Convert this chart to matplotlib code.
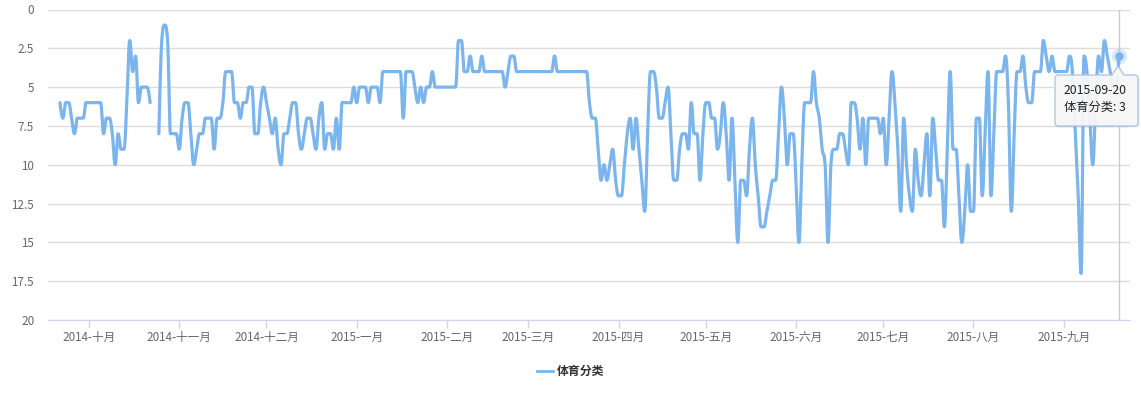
import numpy as np
import pandas as pd
import matplotlib
matplotlib.use('Agg')
import matplotlib.pyplot as plt
import matplotlib.dates as mdates
from matplotlib.patches import FancyBboxPatch, Polygon
from matplotlib.lines import Line2D
from matplotlib.transforms import IdentityTransform

plt.rcParams['font.family'] = ['Noto Sans CJK SC', 'DejaVu Sans']

# daily rank of the 体育分类 series, one list per month (nan = missing day)
nan = np.nan
sep14 = [6, 7, 6, 6, 7, 8, 7, 7, 7, 6]
oct14 = [6, 6, 6, 6, 6, 8, 7, 7, 8, 10, 8, 9, 9, 6, 2, 4, 3, 6, 5, 5, 5, 6, nan, nan, 8, 2, 1, 2, 8, 8, 8]
nov14 = [9, 7, 6, 6, 8, 10, 9, 8, 8, 7, 7, 7, 9, 7, 7, 6, 4, 4, 4, 6, 6, 7, 6, 6, 5, 5, 8, 8, 6, 5]
dec14 = [6, 7, 8, 7, 9, 10, 8, 8, 7, 6, 6, 8, 9, 8, 7, 7, 8, 9, 7, 6, 9, 8, 8, 9, 7, 9, 6, 6, 6, 6, 5]
jan15 = [6, 5, 5, 5, 6, 5, 5, 5, 6, 4, 4, 4, 4, 4, 4, 4, 7, 4, 4, 4, 5, 6, 5, 6, 5, 5, 4, 5, 5, 5, 5]
feb15 = [5, 5, 5, 5, 2, 2, 4, 4, 3, 4, 4, 4, 3, 4, 4, 4, 4, 4, 4, 4, 5, 4, 3, 3, 4, 4, 4, 4]
mar15 = [4, 4, 4, 4, 4, 4, 4, 4, 4, 3, 4, 4, 4, 4, 4, 4, 4, 4, 4, 4, 4, 6, 7, 7, 9, 11, 10, 11, 10, 9, 11]
apr15 = [12, 12, 10, 8, 7, 9, 7, 9, 11, 13, 8, 4, 4, 5, 7, 7, 6, 5, 8, 11, 11, 9, 8, 8, 9, 6, 8, 8, 11, 8]
may15 = [6, 6, 7, 7, 9, 8, 6, 8, 11, 7, 11, 15, 11, 11, 12, 9, 7, 10, 12, 14, 14, 13, 12, 11, 11, 8, 5, 7, 10, 8, 8]
jun15 = [11, 15, 10, 6, 6, 6, 4, 6, 7, 9, 10, 15, 10, 9, 9, 8, 8, 9, 10, 6, 6, 7, 9, 7, 10, 7, 7, 7, 7, 8]
jul15 = [7, 10, 7, 4, 6, 9, 13, 7, 10, 12, 13, 9, 11, 12, 10, 8, 12, 7, 9, 11, 11, 14, 9, 4, 9, 9, 12, 15, 13, 10, 13]
aug15 = [13, 7, 7, 12, 8, 4, 12, 8, 4, 4, 4, 3, 6, 13, 8, 4, 4, 3, 5, 6, 6, 4, 4, 4, 2, 3, 4, 3, 4, 4, 4]
sep15 = [4, 4, 3, 4, 8, 12, 17, 3, 4, 7, 10, 6, 3, 4, 2, 3, 4, 5, 5, 3]

series_name = '体育分类'
cn_months = ['一月', '二月', '三月', '四月', '五月', '六月',
             '七月', '八月', '九月', '十月', '十一月', '十二月']

values = np.array(sep14 + oct14 + nov14 + dec14 + jan15 + feb15 + mar15 +
                  apr15 + may15 + jun15 + jul15 + aug15 + sep15, dtype=float)
dates = pd.date_range('2014-09-21', '2015-09-20', freq='D')
xs = mdates.date2num(dates)


def spline(x, y, n=12):
    # spline like the web chart lib: control points at 1.5/2.5, no false extremes
    npt = len(x)
    if npt < 3:
        return x, y
    lcx, lcy = x.copy(), y.copy()
    rcx, rcy = x.copy(), y.copy()
    for i in range(1, npt - 1):
        px, py = x[i], y[i]
        lx, ly, nx, ny = x[i - 1], y[i - 1], x[i + 1], y[i + 1]
        a = (1.5 * px + lx) / 2.5
        b = (1.5 * py + ly) / 2.5
        c = (1.5 * px + nx) / 2.5
        d = (1.5 * py + ny) / 2.5
        corr = (d - b) * (c - px) / (c - a) + py - d
        b += corr
        d += corr
        if b > ly and b > py:
            b = max(ly, py)
            d = 2 * py - b
        elif b < ly and b < py:
            b = min(ly, py)
            d = 2 * py - b
        if d > ny and d > py:
            d = max(ny, py)
            b = 2 * py - d
        elif d < ny and d < py:
            d = min(ny, py)
            b = 2 * py - d
        lcx[i], lcy[i], rcx[i], rcy[i] = a, b, c, d
    t = np.linspace(0, 1, n, endpoint=False)[:, None]
    out = []
    for i in range(npt - 1):
        p0 = np.array([x[i], y[i]])
        p1 = np.array([rcx[i], rcy[i]])
        p2 = np.array([lcx[i + 1], lcy[i + 1]])
        p3 = np.array([x[i + 1], y[i + 1]])
        out.append((1 - t)**3 * p0 + 3 * (1 - t)**2 * t * p1 + 3 * (1 - t) * t**2 * p2 + t**3 * p3)
    out.append(np.array([[x[-1], y[-1]]]))
    out = np.vstack(out)
    return out[:, 0], out[:, 1]


W, H = 1141, 395
fig = plt.figure(figsize=(W / 100, H / 100), dpi=100)
ax = fig.add_axes([48 / W, 1 - 320 / H, (1130 - 48) / W, (320 - 9.5) / H])

line_col = '#7cb5ec'
ok = ~np.isnan(values)
idx = np.where(ok)[0]
breaks = np.where(np.diff(idx) > 1)[0]
for seg in np.split(idx, breaks + 1):
    sx, sy = spline(xs[seg], values[seg])
    ax.plot(sx, sy, color=line_col, lw=2.3, solid_capstyle='round',
            solid_joinstyle='round', zorder=3)

ax.set_ylim(20, 0)
ax.set_yticks(np.arange(0, 20.1, 2.5))
ax.set_yticklabels(['0', '2.5', '5', '7.5', '10', '12.5', '15', '17.5', '20'])
ax.set_xlim(xs[0] - 4.1, xs[0] + 367.8)

months = pd.date_range('2014-10-01', '2015-09-01', freq='MS')
ax.set_xticks(mdates.date2num(months))
ax.set_xticklabels([f'{d.year}-{cn_months[d.month - 1]}' for d in months])

ax.grid(axis='y', color='#dcdcdc', lw=1)
ax.set_axisbelow(True)
for s in ['left', 'right', 'top']:
    ax.spines[s].set_visible(False)
ax.spines['bottom'].set_color('#ccd6eb')
ax.tick_params(axis='y', length=0, pad=10, labelsize=8.4, labelcolor='#666666')
ax.tick_params(axis='x', length=6, width=1, color='#ccd6eb', pad=2,
               labelsize=8.4, labelcolor='#666666')

# hover state on the last point
last_x, last_y = xs[-1], values[-1]
ax.axvline(last_x, color='#cccccc', lw=1, zorder=1)
ax.plot(last_x, last_y, 'o', ms=11, color=line_col, alpha=0.3, mec='none',
        clip_on=False, zorder=4)
ax.plot(last_x, last_y, 'o', ms=6, color=line_col, mec='none', clip_on=False, zorder=5)

# tooltip (display pixels, y measured from top)
def P(xp, yp):
    return xp, H - yp

tr = IdentityTransform()
bx0, by0, bx1, by1 = 1055, 75, 1138, 126
shadow = FancyBboxPatch(P(bx0 + 1.5, by1 + 1.5), bx1 - bx0, by1 - by0,
                        boxstyle='round,pad=0,rounding_size=3', transform=tr,
                        fc='#000000', ec='none', alpha=0.08, zorder=9)
box = FancyBboxPatch(P(bx0, by1), bx1 - bx0, by1 - by0,
                     boxstyle='round,pad=0,rounding_size=3', transform=tr,
                     fc='#f7f7f7', ec='#a9c8e6', lw=1, alpha=0.95, zorder=10)
fig.add_artist(shadow)
fig.add_artist(box)
tip = Polygon([P(1112, by0 + 1), P(1118, 66), P(1124, by0 + 1)], closed=True,
              transform=tr, fc='#f7f7f7', ec='none', zorder=11)
fig.add_artist(tip)
fig.add_artist(Line2D([1112, 1118, 1124], [H - by0, H - 66, H - by0], transform=tr,
                      color='#a9c8e6', lw=1, zorder=11))
fig.text(1064 / W, 1 - 91 / H, dates[-1].strftime('%Y-%m-%d'), fontsize=8.8,
         color='#222222', va='center', ha='left', zorder=12)
fig.text(1064 / W, 1 - 107 / H, f'{series_name}: {int(last_y)}', fontsize=8.8,
         color='#222222', va='center', ha='left', zorder=12)

# legend
fig.add_artist(Line2D([537, 553], [H - 371, H - 371], transform=tr, color=line_col, lw=2))
fig.text(557 / W, 1 - 371 / H, series_name, fontsize=8.6, fontweight='bold',
         color='#333333', va='center', ha='left')

fig.savefig('out.png', dpi=100)
